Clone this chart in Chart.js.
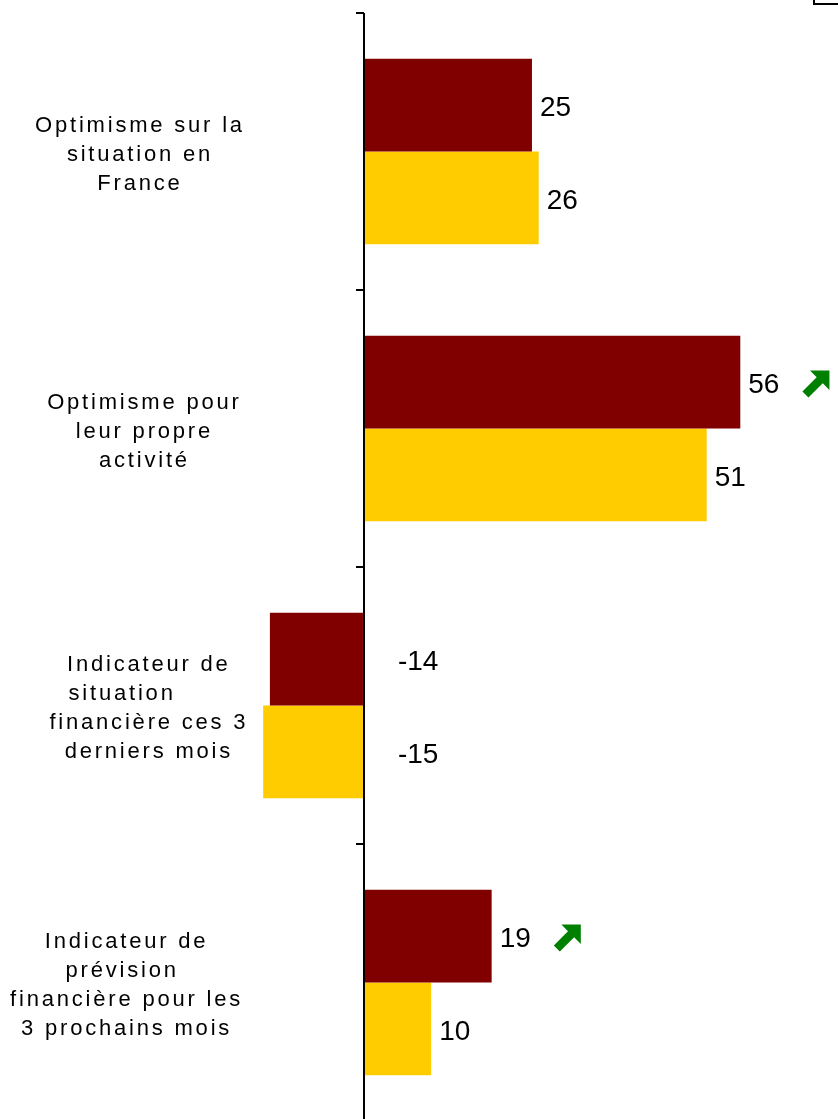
<!DOCTYPE html>
<html><head><meta charset="utf-8">
<script src="https://cdn.jsdelivr.net/npm/chart.js@4/dist/chart.umd.min.js"></script>
<style>html,body{margin:0;padding:0;background:#fff;overflow:hidden}canvas{display:block}</style>
</head><body>
<canvas id="c" width="838" height="1121"></canvas>
<script>
const categories = [
  ["Optimisme sur la", "situation en", "France"],
  [" Optimisme pour", " leur propre", " activité"],
  ["  Indicateur de", "situation    ", "  financière ces 3", "  derniers mois"],
  ["Indicateur de   ", "prévision    ", "financière pour les   ", "3 prochains mois   "]
];
const seriesNames = ["Vague actuelle", "Vague précédente"];
const currentValues = [25, 56, -14, 19];
const previousValues = [26, 51, -15, 10];
const currentUpArrows = [false, true, false, true];
const previousUpArrows = [false, false, false, false];

function drawArrow(ctx, x, cy, s) {
  const y = cy - s / 2;
  const pts = [[1,0],[0.28,0],[0.527,0.247],[0,0.777],[0.223,1],[0.753,0.473],[1,0.72]];
  ctx.beginPath();
  pts.forEach((p, i) => {
    const px = x + p[0] * s, py = y + p[1] * s;
    if (i === 0) ctx.moveTo(px, py); else ctx.lineTo(px, py);
  });
  ctx.closePath();
  ctx.fillStyle = '#008000';
  ctx.fill();
}

const deco = {
  id: 'deco',
  beforeDraw(chart) { chart.ctx.letterSpacing = '2.8px'; },
  beforeDatasetsDraw(chart) { chart.ctx.letterSpacing = '0px'; },
  afterDatasetsDraw(chart) {
    const { ctx, scales: { x, y } } = chart;
    const x0 = x.getPixelForValue(0);
    ctx.save();
    ctx.strokeStyle = '#000';
    ctx.lineWidth = 2;
    for (let i = 0; i <= categories.length; i++) {
      const yy = Math.round(y.getPixelForValue(i - 0.5));
      ctx.beginPath(); ctx.moveTo(x0 - 8, yy); ctx.lineTo(x0, yy); ctx.stroke();
    }
    ctx.font = '28px "Liberation Sans", Arial, sans-serif';
    ctx.textBaseline = 'middle';
    ctx.textAlign = 'left';
    chart.data.datasets.forEach((ds, di) => {
      const meta = chart.getDatasetMeta(di);
      meta.data.forEach((bar, i) => {
        const v = ds.data[i];
        const txt = String(v);
        const tx = v >= 0 ? bar.x + 8 : x0 + 34;
        ctx.fillStyle = '#000';
        ctx.fillText(txt, tx, bar.y + 3);
        if (ds.upArrows && ds.upArrows[i]) {
          drawArrow(ctx, tx + ctx.measureText(txt).width + 23, bar.y + 2, 27);
        }
      });
    });
    ctx.strokeStyle = '#000';
    ctx.lineWidth = 2;
    ctx.strokeRect(814, -10, 60, 14);
    ctx.restore();
  }
};

new Chart(document.getElementById('c'), {
  type: 'bar',
  data: {
    labels: categories,
    datasets: [
      { label: seriesNames[0], data: currentValues, upArrows: currentUpArrows, backgroundColor: '#800000', borderWidth: 0, categoryPercentage: 0.67, barPercentage: 1.0 },
      { label: seriesNames[1], data: previousValues, upArrows: previousUpArrows, backgroundColor: '#FFCC00', borderWidth: 0, categoryPercentage: 0.67, barPercentage: 1.0 }
    ]
  },
  options: {
    indexAxis: 'y',
    responsive: false,
    animation: false,
    layout: { padding: { top: 13, left: 0, right: 0, bottom: 0 } },
    plugins: { legend: { display: false }, tooltip: { enabled: false } },
    scales: {
      x: {
        type: 'linear', min: -15.77, max: 70.54,
        ticks: { display: false, stepSize: 10 },
        border: { display: false },
        grid: {
          drawTicks: false,
          lineWidth: 2,
          color: c => (c.tick && c.tick.value === 0) ? '#000' : 'rgba(0,0,0,0)'
        },
        afterFit: s => { s.height = 0; s.paddingLeft = 0; s.paddingRight = 0; }
      },
      y: {
        position: 'left',
        afterFit: s => { s.width = 258; s.paddingTop = 0; s.paddingBottom = 0; },
        ticks: {
          crossAlign: 'center', padding: 19, color: '#000', autoSkip: false, labelOffset: 3,
          font: { family: '"Liberation Sans", Arial, sans-serif', size: 22, lineHeight: 1.318 }
        },
        grid: { display: false, drawTicks: false },
        border: { display: false }
      }
    }
  },
  plugins: [deco]
});
</script>
</body></html>
